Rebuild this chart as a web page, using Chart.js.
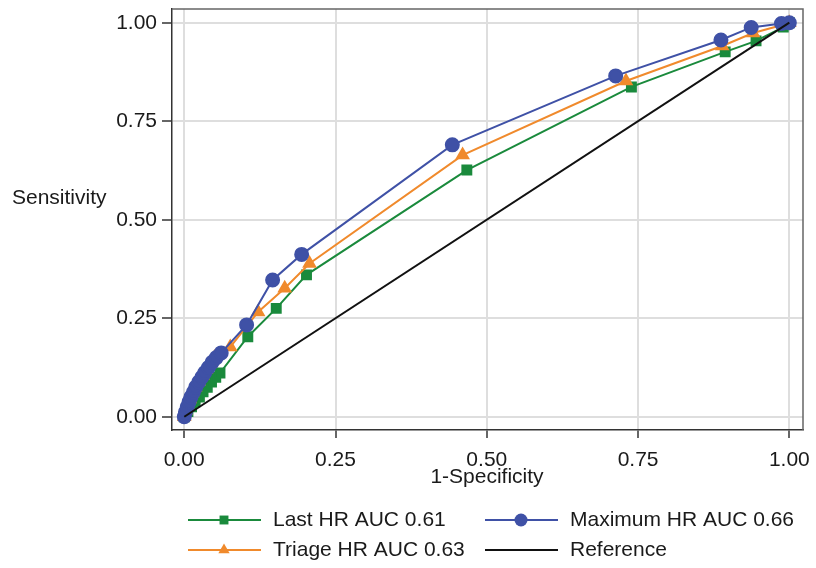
<!DOCTYPE html>
<html>
<head>
<meta charset="utf-8">
<script src="https://cdn.jsdelivr.net/npm/chart.js@4/dist/chart.umd.min.js"></script>
<style>
  body { margin: 0; background: #fff; }
  canvas { display: block; }
</style>
</head>
<body>
<canvas id="roc" width="816" height="568"></canvas>
<script>
const tickValues = [0, 0.25, 0.5, 0.75, 1];
const xTitle = "1-Specificity";
const yTitle = "Sensitivity";

const lastLabel = "Last HR AUC 0.61";
const lastFpr = [0, 0.006, 0.012, 0.018, 0.025, 0.031, 0.038, 0.045, 0.052, 0.059, 0.105, 0.152, 0.202, 0.467, 0.739, 0.894, 0.945, 0.990, 1];
const lastTpr = [0, 0.013, 0.025, 0.038, 0.050, 0.063, 0.075, 0.088, 0.100, 0.111, 0.203, 0.275, 0.360, 0.626, 0.837, 0.926, 0.954, 0.989, 1];

const triageLabel = "Triage HR AUC 0.63";
const triageFpr = [0, 0.002, 0.005, 0.009, 0.013, 0.018, 0.024, 0.030, 0.036, 0.043, 0.050, 0.076, 0.122, 0.166, 0.207, 0.460, 0.730, 0.889, 0.940, 0.990, 1];
const triageTpr = [0, 0.015, 0.030, 0.045, 0.060, 0.075, 0.090, 0.105, 0.120, 0.135, 0.150, 0.177, 0.266, 0.326, 0.389, 0.664, 0.852, 0.941, 0.974, 0.995, 1];

const maxLabel = "Maximum HR AUC 0.66";
const maxFpr = [0, 0.002, 0.005, 0.008, 0.011, 0.015, 0.019, 0.024, 0.029, 0.034, 0.040, 0.046, 0.053, 0.061, 0.103, 0.146, 0.194, 0.443, 0.713, 0.887, 0.937, 0.987, 1];
const maxTpr = [0, 0.012, 0.025, 0.038, 0.050, 0.062, 0.075, 0.088, 0.100, 0.112, 0.125, 0.138, 0.150, 0.162, 0.233, 0.347, 0.412, 0.690, 0.865, 0.956, 0.988, 0.998, 1];

const refLabel = "Reference";
const refFpr = [0, 1];
const refTpr = [0, 1];

const FONT = "'Liberation Sans', Arial, sans-serif";
const TEXT = "#1a1a1a";
const LINE_W = 2;

function toPoints(xs, ys) {
  return xs.map((x, i) => ({ x: x, y: ys[i] }));
}

// reference first so it ends up on top, Chart.js draws index 0 last
const datasets = [
  { label: refLabel, data: toPoints(refFpr, refTpr), borderColor: "#111", borderWidth: LINE_W, pointRadius: 0, pointStyle: false },
  { label: maxLabel, data: toPoints(maxFpr, maxTpr), borderColor: "#3f51a6", backgroundColor: "#3f51a6", borderWidth: LINE_W, pointStyle: "circle", pointRadius: 6.5 },
  { label: triageLabel, data: toPoints(triageFpr, triageTpr), borderColor: "#f08a2c", backgroundColor: "#f08a2c", borderWidth: LINE_W, pointStyle: "triangle", pointRadius: 6.5 },
  { label: lastLabel, data: toPoints(lastFpr, lastTpr), borderColor: "#1a8a3c", backgroundColor: "#1a8a3c", borderWidth: LINE_W, pointStyle: "rect", pointRadius: 6.3 }
];

// legend entries in the order of the picture (two columns)
const legendOrder = [
  { ds: 3, col: 0, row: 0 },
  { ds: 1, col: 1, row: 0 },
  { ds: 2, col: 0, row: 1 },
  { ds: 0, col: 1, row: 1 }
];

function drawMarker(ctx, style, x, y, r) {
  ctx.beginPath();
  if (style === "rect") {
    const s = r * Math.SQRT1_2;
    ctx.rect(x - s, y - s, 2 * s, 2 * s);
  } else if (style === "triangle") {
    ctx.moveTo(x, y - r);
    ctx.lineTo(x + r * 0.866, y + r * 0.5);
    ctx.lineTo(x - r * 0.866, y + r * 0.5);
    ctx.closePath();
  } else {
    ctx.arc(x, y, r, 0, Math.PI * 2);
  }
  ctx.fill();
}

const decorations = {
  id: "decorations",
  afterDraw(chart) {
    const ctx = chart.ctx;
    const a = chart.chartArea;
    ctx.save();

    // top and right frame
    ctx.strokeStyle = "#666";
    ctx.lineWidth = 1.5;
    ctx.beginPath();
    ctx.moveTo(a.left, a.top);
    ctx.lineTo(a.right, a.top);
    ctx.lineTo(a.right, a.bottom);
    ctx.stroke();

    ctx.fillStyle = TEXT;
    ctx.font = "21px " + FONT;
    ctx.textBaseline = "middle";
    ctx.textAlign = "left";
    ctx.fillText(yTitle, 12, 198);
    ctx.textAlign = "center";
    ctx.fillText(xTitle, 487, 477);

    // legend
    legendOrder.forEach(item => {
      const ds = chart.data.datasets[item.ds];
      const x0 = item.col === 0 ? 188 : 485;
      const y = item.row === 0 ? 520 : 550;
      ctx.strokeStyle = ds.borderColor;
      ctx.lineWidth = LINE_W;
      ctx.beginPath();
      ctx.moveTo(x0, y);
      ctx.lineTo(x0 + 73, y);
      ctx.stroke();
      if (ds.pointStyle) {
        ctx.fillStyle = ds.backgroundColor;
        drawMarker(ctx, ds.pointStyle, x0 + 36, y, ds.pointRadius);
      }
      ctx.fillStyle = TEXT;
      ctx.textAlign = "left";
      ctx.fillText(ds.label, x0 + 85, y);
    });
    ctx.restore();
  }
};

function fixedTicks(scale) {
  scale.ticks = tickValues.map(v => ({ value: v }));
}

new Chart(document.getElementById("roc"), {
  type: "line",
  data: { datasets: datasets },
  options: {
    responsive: false,
    animation: false,
    devicePixelRatio: 1,
    layout: { padding: { top: 9, right: 13, left: 0, bottom: 0 } },
    plugins: {
      legend: { display: false },
      tooltip: { enabled: false }
    },
    elements: { line: { tension: 0 } },
    scales: {
      x: {
        type: "linear",
        min: -0.0203,
        max: 1.0226,
        afterBuildTicks: fixedTicks,
        afterFit(scale) {
          scale.height = 138;
          scale.paddingLeft = 0;
          scale.paddingRight = 0;
        },
        grid: { color: "#dedede", lineWidth: 2, tickColor: "#333", tickLength: 8, tickWidth: 1.5 },
        border: { color: "#333", width: 1.5 },
        ticks: {
          color: TEXT,
          padding: 10,
          maxRotation: 0,
          font: { family: FONT, size: 21 },
          callback: v => v.toFixed(2)
        }
      },
      y: {
        type: "linear",
        min: -0.0337,
        max: 1.0348,
        afterBuildTicks: fixedTicks,
        afterFit(scale) {
          scale.width = 172;
          scale.paddingTop = 0;
          scale.paddingBottom = 0;
        },
        grid: { color: "#dedede", lineWidth: 2, tickColor: "#333", tickLength: 10, tickWidth: 1.5 },
        border: { color: "#333", width: 1.5 },
        ticks: {
          color: TEXT,
          padding: 5,
          font: { family: FONT, size: 21 },
          callback: v => v.toFixed(2)
        }
      }
    }
  },
  plugins: [decorations]
});
</script>
</body>
</html>
